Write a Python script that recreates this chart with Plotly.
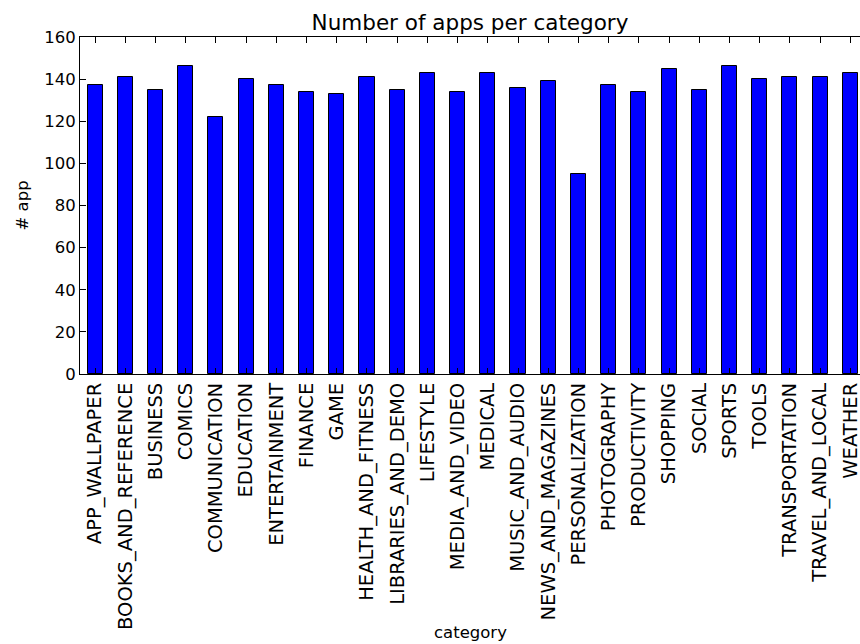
import plotly.graph_objects as go

# 每个类别的应用数量
categories = [
    "APP_WALLPAPER", "BOOKS_AND_REFERENCE", "BUSINESS", "COMICS", "COMMUNICATION",
    "EDUCATION", "ENTERTAINMENT", "FINANCE", "GAME", "HEALTH_AND_FITNESS",
    "LIBRARIES_AND_DEMO", "LIFESTYLE", "MEDIA_AND_VIDEO", "MEDICAL", "MUSIC_AND_AUDIO",
    "NEWS_AND_MAGAZINES", "PERSONALIZATION", "PHOTOGRAPHY", "PRODUCTIVITY", "SHOPPING",
    "SOCIAL", "SPORTS", "TOOLS", "TRANSPORTATION", "TRAVEL_AND_LOCAL", "WEATHER",
]
app_counts = [
    137, 141, 135, 146, 122,
    140, 137, 134, 133, 141,
    135, 143, 134, 143, 136,
    139, 95, 137, 134, 145,
    135, 146, 140, 141, 141, 143,
]
y_ticks = [0, 20, 40, 60, 80, 100, 120, 140, 160]

font = "DejaVu Sans"
W, H = 860, 644
L, T, B = 80, 37, 270

fig = go.Figure(go.Bar(
    x=categories,
    y=app_counts,
    width=0.5,
    marker=dict(color="#0000ff", line=dict(color="black", width=1)),
))

fig.update_layout(
    width=W,
    height=H,
    margin=dict(l=L, r=0, t=T, b=B),
    plot_bgcolor="white",
    paper_bgcolor="white",
    font=dict(family=font, size=16, color="black"),
    title=dict(text="Number of apps per category", x=0.5, xref="paper", xanchor="center",
               y=1 - 22 / H, yanchor="middle", font=dict(size=21.5)),
    showlegend=False,
    bargap=0,
    annotations=[
        # 坐标轴标题（手动定位）
        dict(text="category", xref="paper", yref="paper", x=0.5, y=-(632 - (H - B)) / (H - T - B),
             xanchor="center", yanchor="middle", showarrow=False, font=dict(size=16.5)),
        dict(text="# app", xref="paper", yref="paper", x=-(L - 22) / (W - L), y=0.5,
             xanchor="center", yanchor="middle", textangle=-90, showarrow=False,
             font=dict(size=16.5)),
    ],
)

fig.update_xaxes(
    type="category",
    range=[-0.5, 25.32],
    tickangle=-90,
    tickfont=dict(size=19.5),
    ticks="inside",
    ticklen=6,
    tickcolor="black",
    showline=True,
    linecolor="black",
    linewidth=1,
    mirror="ticks",
    showgrid=False,
    automargin=False,
)
fig.update_yaxes(
    range=[0, 160],
    tickvals=y_ticks,
    tickfont=dict(size=16.5),
    ticks="inside",
    ticklen=6,
    tickcolor="black",
    showline=True,
    linecolor="black",
    linewidth=1,
    showgrid=False,
    zeroline=False,
    automargin=False,
)

# 去掉页面默认的 8px 边距，隐藏工具栏
fig.write_html("out.html", config={"displayModeBar": False},
               post_script="document.body.style.margin='0';")
